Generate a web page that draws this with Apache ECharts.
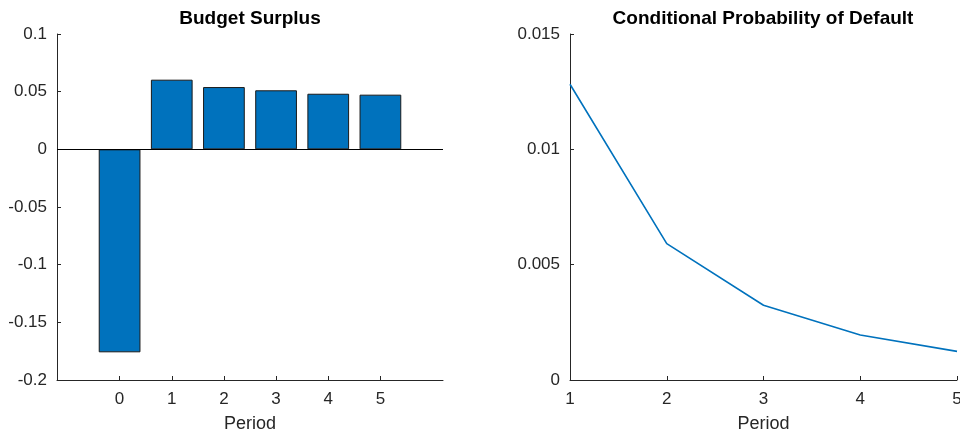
<!DOCTYPE html>
<html><head><meta charset="utf-8">
<script src="https://cdn.jsdelivr.net/npm/echarts@6/dist/echarts.min.js"></script>
<style>html,body{margin:0;padding:0;background:#fff}#c{width:960px;height:433px}</style>
</head><body><div id="c"></div>
<script>
const barPeriods = [0, 1, 2, 3, 4, 5];
const surplus = [-0.176, 0.0604, 0.054, 0.0512, 0.0482, 0.0474];
const probPeriods = [1, 2, 3, 4, 5];
const defaultProb = [0.01282, 0.00591, 0.00324, 0.00195, 0.00124];
const surplusTicks = [-0.2, -0.15, -0.1, -0.05, 0, 0.05, 0.1];
const probTicks = [0, 0.005, 0.01, 0.015];
const titles = ['Budget Surplus', 'Conditional Probability of Default'];

const axisCol = '#262626';
const font = 'Liberation Sans, Arial, Helvetica, sans-serif';
const lbl = {color: axisCol, fontSize: 17, fontFamily: font};

const chart = echarts.init(document.getElementById('c'), null, {renderer: 'canvas'});
chart.setOption({
  animation: false,
  backgroundColor: '#fff',
  title: [
    {text: titles[0], left: 250, top: 9, textAlign: 'center', padding: 0,
     textStyle: {fontSize: 19, fontWeight: 'bold', color: '#000', fontFamily: font}},
    {text: titles[1], left: 763, top: 9, textAlign: 'center', padding: 0,
     textStyle: {fontSize: 19, fontWeight: 'bold', color: '#000', fontFamily: font}}
  ],
  grid: [
    {left: 57, right: 517, top: 34, bottom: 53, containLabel: false, outerBoundsMode: 'none'},
    {left: 570, right: 3, top: 34, bottom: 53, containLabel: false, outerBoundsMode: 'none'}
  ],
  xAxis: [
    {type: 'value', gridIndex: 0, min: -1.2, max: 6.2,
     name: 'Period', nameLocation: 'middle', nameGap: 35,
     nameTextStyle: {color: axisCol, fontSize: 18, fontFamily: font},
     axisLine: {onZero: false, lineStyle: {color: axisCol, width: 1}},
     axisTick: {inside: true, length: 4, customValues: barPeriods, lineStyle: {color: axisCol}},
     axisLabel: Object.assign({customValues: barPeriods, margin: 11}, lbl),
     splitLine: {show: false}},
    {type: 'value', gridIndex: 1, min: 1, max: 5, interval: 1,
     name: 'Period', nameLocation: 'middle', nameGap: 35,
     nameTextStyle: {color: axisCol, fontSize: 18, fontFamily: font},
     axisLine: {onZero: false, lineStyle: {color: axisCol, width: 1}},
     axisTick: {inside: true, length: 4, lineStyle: {color: axisCol}},
     axisLabel: Object.assign({margin: 11, showMaxLabel: true, showMinLabel: true}, lbl),
     splitLine: {show: false}}
  ],
  yAxis: [
    {type: 'value', gridIndex: 0, min: surplusTicks[0], max: surplusTicks[surplusTicks.length-1], interval: 0.05,
     axisLine: {show: true, onZero: false, lineStyle: {color: axisCol, width: 1}},
     axisTick: {show: true, inside: true, length: 4, lineStyle: {color: axisCol}},
     axisLabel: Object.assign({margin: 10, formatter: v => String(+v.toFixed(4))}, lbl),
     splitLine: {show: false}},
    {type: 'value', gridIndex: 1, min: probTicks[0], max: probTicks[probTicks.length-1], interval: 0.005,
     axisLine: {show: true, onZero: false, lineStyle: {color: axisCol, width: 1}},
     axisTick: {show: true, inside: true, length: 4, lineStyle: {color: axisCol}},
     axisLabel: Object.assign({margin: 10, formatter: v => String(+v.toFixed(4))}, lbl),
     splitLine: {show: false}}
  ],
  series: [
    {type: 'bar', xAxisIndex: 0, yAxisIndex: 0, barWidth: '80%',
     data: barPeriods.map((p, i) => [p, surplus[i]]),
     itemStyle: {color: '#0072BD', borderColor: '#1a1a1a', borderWidth: 1},
     markLine: {silent: true, symbol: 'none', label: {show: false},
       lineStyle: {color: '#000', width: 1, type: 'solid'},
       data: [{yAxis: 0}]}},
    {type: 'line', xAxisIndex: 1, yAxisIndex: 1, showSymbol: false, symbol: 'none',
     data: probPeriods.map((p, i) => [p, defaultProb[i]]),
     lineStyle: {color: '#0072BD', width: 1.6}, itemStyle: {color: '#0072BD'}}
  ]
});
</script></body></html>
